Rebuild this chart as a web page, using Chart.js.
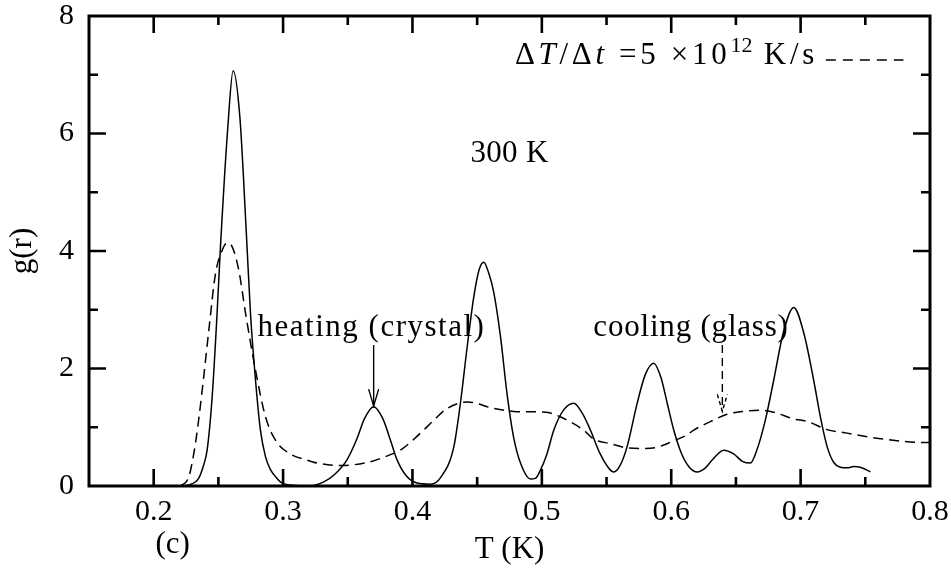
<!DOCTYPE html>
<html><head><meta charset="utf-8">
<script src="https://cdn.jsdelivr.net/npm/chart.js@4/dist/chart.umd.min.js"></script>
<style>html,body{margin:0;padding:0;background:#fff;}#wrap{width:951px;height:572px;}</style>
</head><body><div id="wrap"><canvas id="c" width="951" height="572"></canvas></div>
<script>
// ---- data ----
const heatingR = [0.2225,0.229,0.2345,0.2385,0.2413,0.2452,0.249,0.2516,0.2573,0.2614,0.2666,0.2715,0.2748,0.2787,0.2825,0.2864,0.2905,0.2941,0.2993,0.31,0.32,0.3315,0.34,0.3495,0.357,0.363,0.370,0.377,0.383,0.3882,0.395,0.4036,0.414,0.422,0.432,0.437,0.4423,0.4474,0.4515,0.4551,0.4590,0.4628,0.468,0.4732,0.478,0.4835,0.4912,0.495,0.4989,0.504,0.5092,0.517,0.5247,0.531,0.5376,0.545,0.553,0.5556,0.5605,0.5659,0.5737,0.580,0.5865,0.592,0.597,0.602,0.608,0.614,0.620,0.626,0.632,0.6406,0.648,0.655,0.6612,0.666,0.6725,0.6792,0.6865,0.6947,0.7025,0.7101,0.7155,0.7205,0.7256,0.7307,0.736,0.7411,0.746,0.754];
const heatingG = [0,0.03,0.12,0.35,0.61,1.52,2.94,4.07,6.11,7.07,6.28,4.35,2.94,1.8,0.95,0.5,0.27,0.16,0.05,0.01,0,0.07,0.2,0.45,0.8,1.15,1.35,1.15,0.78,0.44,0.18,0.05,0.03,0.15,0.67,1.4,2.37,3.22,3.68,3.81,3.62,3.3,2.55,1.55,0.85,0.39,0.12,0.13,0.27,0.55,0.95,1.3,1.41,1.25,0.95,0.55,0.27,0.24,0.35,0.67,1.41,1.9,2.09,1.85,1.4,0.95,0.55,0.32,0.24,0.3,0.45,0.61,0.55,0.42,0.39,0.6,1.1,1.8,2.6,3.04,2.6,1.8,1.15,0.67,0.4,0.32,0.31,0.33,0.32,0.24];
const coolingR = [0.2207,0.2272,0.2323,0.2375,0.2426,0.2478,0.2529,0.2568,0.2607,0.2658,0.271,0.2787,0.2864,0.2941,0.3044,0.3186,0.3264,0.3444,0.365,0.3855,0.3907,0.4062,0.4165,0.4268,0.4423,0.4628,0.4783,0.4989,0.505,0.515,0.5324,0.540,0.553,0.566,0.580,0.589,0.600,0.6123,0.6174,0.6306,0.6432,0.656,0.6689,0.680,0.6947,0.705,0.7205,0.7359,0.746,0.7668,0.7977,0.8];
const coolingG = [0,0.16,0.73,1.63,2.65,3.62,4.01,4.14,4.07,3.67,2.94,1.97,1.18,0.78,0.56,0.44,0.39,0.35,0.4,0.556,0.61,0.9,1.12,1.32,1.43,1.32,1.27,1.26,1.25,1.17,0.95,0.8,0.72,0.65,0.64,0.66,0.75,0.87,0.95,1.1,1.22,1.27,1.29,1.25,1.14,1.1,0.96,0.9,0.86,0.79,0.74,0.74];
const xTickLabels = [0.2,0.3,0.4,0.5,0.6,0.7,0.8];
const xMinorTicks = [0.25,0.35,0.45,0.55,0.65,0.75];
const yTickLabels = [0,2,4,6,8];
const yMinorTicks = [1,3,5,7];
const seriesNames = ['heating (crystal)','cooling (glass)'];
const xTitle = 'T (K)';
const yTitle = 'g(r)';
const panelLabel = '(c)';
const tempLabel = '300 K';

const FONT = "'Liberation Serif','Times New Roman',serif";
const pts = (xs, ys) => xs.map((v, i) => ({x: v, y: ys[i]}));
const noPad = s => { s.paddingTop = 0; s.paddingBottom = 0; s.paddingLeft = 0; s.paddingRight = 0; };

const decor = {
  id: 'decor',
  afterDatasetsDraw(chart) {
    const {ctx, chartArea: a, scales: {x, y}} = chart;
    ctx.save();
    ctx.strokeStyle = '#000'; ctx.fillStyle = '#000';
    // tick marks (inward, all four sides)
    ctx.lineWidth = 2.6; ctx.lineCap = 'butt';
    ctx.beginPath();
    const xt = (v, len) => { const p = x.getPixelForValue(v); if (p <= a.left + 1 || p >= a.right - 1) return;
      ctx.moveTo(p, a.bottom); ctx.lineTo(p, a.bottom - len); ctx.moveTo(p, a.top); ctx.lineTo(p, a.top + len); };
    const yt = (v, len) => { const p = y.getPixelForValue(v); if (p <= a.top + 1 || p >= a.bottom - 1) return;
      ctx.moveTo(a.left, p); ctx.lineTo(a.left + len, p); ctx.moveTo(a.right, p); ctx.lineTo(a.right - len, p); };
    xTickLabels.forEach(v => xt(v, 17)); xMinorTicks.forEach(v => xt(v, 9));
    yTickLabels.forEach(v => yt(v, 17)); yMinorTicks.forEach(v => yt(v, 9));
    ctx.stroke();
    ctx.lineWidth = 3;
    ctx.strokeRect(a.left, a.top, a.right - a.left, a.bottom - a.top);

    // annotation texts
    ctx.textBaseline = 'alphabetic'; ctx.textAlign = 'left';
    ctx.font = '31px ' + FONT;
    ctx.letterSpacing = '1.5px';
    ctx.fillText(seriesNames[0], x.getPixelForValue(0.2803), y.getPixelForValue(2.55));
    ctx.letterSpacing = '0.8px';
    ctx.fillText(seriesNames[1], x.getPixelForValue(0.5398), y.getPixelForValue(2.55));
    ctx.letterSpacing = '0.3px';
    ctx.fillText(tempLabel, x.getPixelForValue(0.4448), y.getPixelForValue(5.52));
    ctx.letterSpacing = '0px';
    ctx.textAlign = 'center';
    ctx.fillText(panelLabel, x.getPixelForValue(0.2146), y.getPixelForValue(-1.14));

    // arrows
    const arrow = (xv, y0, y1, dashed) => {
      const px = x.getPixelForValue(xv), p0 = y.getPixelForValue(y0), p1 = y.getPixelForValue(y1);
      ctx.lineWidth = 1.4;
      ctx.setLineDash(dashed ? [8, 5] : []);
      ctx.beginPath(); ctx.moveTo(px, p0); ctx.lineTo(px, p1); ctx.stroke();
      ctx.setLineDash(dashed ? [4, 3] : []);
      ctx.beginPath(); ctx.moveTo(px - 5, p1 - 17); ctx.lineTo(px, p1); ctx.lineTo(px + 5, p1 - 17); ctx.stroke();
      ctx.setLineDash([]);
    };
    arrow(0.370, 2.40, 1.36, false);
    arrow(0.6395, 2.40, 1.27, true);

    // legend: ΔT/Δt =5 ×10^12 K/s  -----
    const base = y.getPixelForValue(7.19);
    const leftStart = x.getPixelForValue(0.4792);
    const rightEnd = x.getPixelForValue(0.7134);
    const parts = [
      ['Δ', '31px ' + FONT, 0, 1], ['T', 'italic 31px ' + FONT, 0, 1], ['/', '31px ' + FONT, 0, 1],
      ['Δ', '31px ' + FONT, 0, 1], ['t', 'italic 31px ' + FONT, 0, 1], [' =5 ×10', '31px ' + FONT, 0, 1],
      ['12', '22px ' + FONT, -12, 0], [' K/s', '31px ' + FONT, 0, 1]
    ];
    ctx.textAlign = 'left'; ctx.letterSpacing = '0px';
    let natural = 0, glyphs = 0;
    parts.forEach(p => { ctx.font = p[1]; natural += ctx.measureText(p[0]).width; glyphs += p[3] * [...p[0]].length; });
    const ls = Math.max(0, (rightEnd - leftStart - natural) / glyphs);
    let cx = leftStart;
    parts.forEach(p => { ctx.font = p[1]; ctx.letterSpacing = (p[3] * ls).toFixed(2) + 'px';
      ctx.fillText(p[0], cx, base + p[2]); cx += ctx.measureText(p[0]).width; });
    ctx.letterSpacing = '0px';
    const ds = chart.data.datasets[1];
    ctx.lineWidth = ds.borderWidth; ctx.setLineDash([10, 7]);
    const ly = y.getPixelForValue(7.25);
    ctx.beginPath(); ctx.moveTo(x.getPixelForValue(0.7195), ly); ctx.lineTo(x.getPixelForValue(0.7795), ly); ctx.stroke();
    ctx.restore();
  }
};

new Chart(document.getElementById('c'), {
  type: 'line',
  data: {
    datasets: [
      {label: seriesNames[0], data: pts(heatingR, heatingG), borderColor: '#000', borderWidth: 1.5,
       pointRadius: 0, fill: false, cubicInterpolationMode: 'monotone'},
      {label: seriesNames[1], data: pts(coolingR, coolingG), borderColor: '#000', borderWidth: 1.5,
       borderDash: [10, 6], pointRadius: 0, fill: false, cubicInterpolationMode: 'monotone'}
    ]
  },
  options: {
    responsive: false, animation: false, devicePixelRatio: 1,
    layout: {autoPadding: false, padding: {left: 0, top: 16, right: 21, bottom: 0}},
    plugins: {legend: {display: false}, tooltip: {enabled: false}},
    scales: {
      x: {
        type: 'linear', min: 0.15, max: 0.8,
        afterBuildTicks: s => { s.ticks = xTickLabels.map(v => ({value: v})); },
        afterFit: s => { s.height = 86; noPad(s); },
        grid: {display: false, drawTicks: false}, border: {display: false},
        ticks: {color: '#000', font: {family: FONT, size: 30}, padding: 8, maxRotation: 0,
                callback: v => Number(v).toFixed(1)},
        title: {display: true, text: xTitle, color: '#000', font: {family: FONT, size: 31}, padding: {bottom: 4, top: 0}}
      },
      y: {
        type: 'linear', min: 0, max: 8,
        afterBuildTicks: s => { s.ticks = yTickLabels.map(v => ({value: v})); },
        afterFit: s => { s.width = 89; noPad(s); },
        grid: {display: false, drawTicks: false}, border: {display: false},
        ticks: {color: '#000', font: {family: FONT, size: 30}, padding: 15,
                callback: v => String(v)},
        title: {display: true, text: yTitle, color: '#000', font: {family: FONT, size: 31}, padding: {top: 4, bottom: 0}}
      }
    }
  },
  plugins: [decor]
});
</script></body></html>
